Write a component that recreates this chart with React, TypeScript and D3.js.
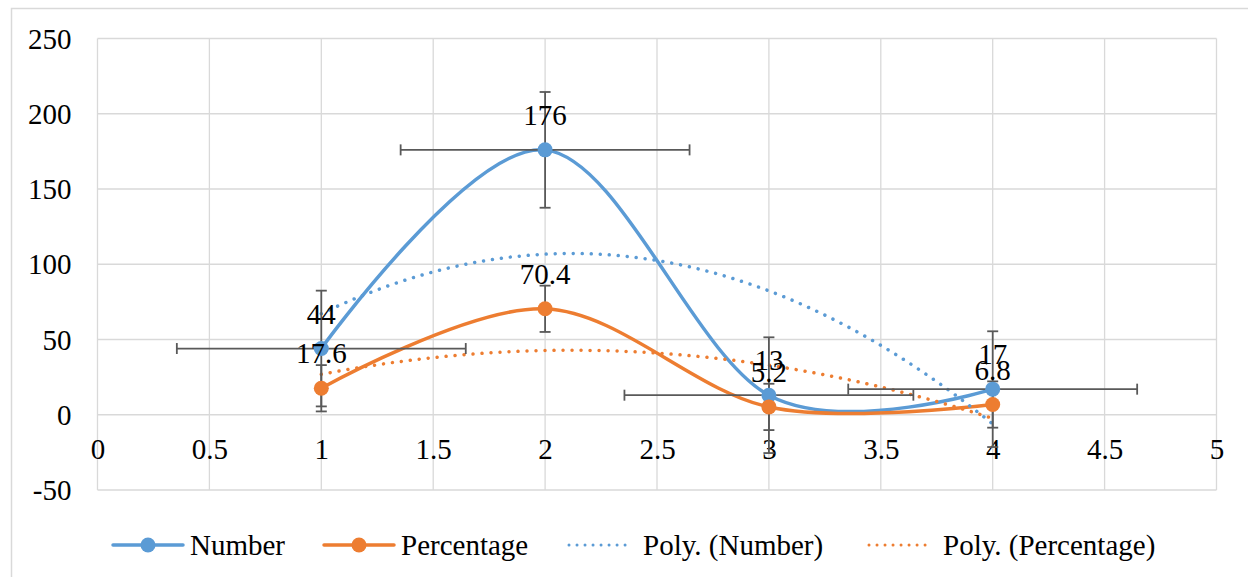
import React, { useEffect, useRef } from "react";
import * as d3 from "d3";

// chart data
const xValues = [1, 2, 3, 4];
const numberValues = [44, 176, 13, 17];
const percentageValues = [17.6, 70.4, 5.2, 6.8];
const xTickValues = [0, 0.5, 1, 1.5, 2, 2.5, 3, 3.5, 4, 4.5, 5];
const yTickValues = [-50, 0, 50, 100, 150, 200, 250];
const legendLabels = ["Number", "Percentage", "Poly. (Number)", "Poly. (Percentage)"];

const BLUE = "#5B9BD5";
const ORANGE = "#ED7D31";
const GRID = "#D9D9D9";
const ERR = "#595959";
const FONT = "Liberation Serif";

// least squares polynomial (order 2), like Excel's trendline
function polyFit(xs: number[], ys: number[]) {
  const s = (f: (x: number, y: number) => number) => d3.sum(xs, (x, i) => f(x, ys[i]));
  const A = [
    [xs.length, s(x => x), s(x => x * x)],
    [s(x => x), s(x => x * x), s(x => x ** 3)],
    [s(x => x * x), s(x => x ** 3), s(x => x ** 4)],
  ];
  const b = [s((x, y) => y), s((x, y) => x * y), s((x, y) => x * x * y)];
  // gaussian elimination
  const n = 3;
  const M = A.map((r, i) => [...r, b[i]]);
  for (let i = 0; i < n; i++) {
    for (let k = i + 1; k < n; k++) {
      const f = M[k][i] / M[i][i];
      for (let j = i; j <= n; j++) M[k][j] -= f * M[i][j];
    }
  }
  const c = [0, 0, 0];
  for (let i = n - 1; i >= 0; i--) {
    let v = M[i][n];
    for (let j = i + 1; j < n; j++) v -= M[i][j] * c[j];
    c[i] = v / M[i][i];
  }
  return (x: number) => c[0] + c[1] * x + c[2] * x * x;
}

// standard error, as in Excel's error bars
const stdErr = (vals: number[]) => (d3.deviation(vals) as number) / Math.sqrt(vals.length);

const App = () => {
  const ref = useRef<SVGSVGElement>(null);

  useEffect(() => {
    const width = 1248;
    const height = 577;
    const margin = { top: 38.5, right: 31.5, bottom: 87, left: 97.5 };
    const innerW = width - margin.left - margin.right;
    const innerH = height - margin.top - margin.bottom;

    const svg = d3.select(ref.current).attr("width", width).attr("height", height);
    svg.selectAll("*").remove();

    svg.append("rect").attr("width", width).attr("height", height).attr("fill", "#fff");
    svg.append("rect")
      .attr("x", 11.5).attr("y", 8.5).attr("width", 1260).attr("height", 620)
      .attr("fill", "none").attr("stroke", GRID).attr("stroke-width", 1.5);

    const g = svg.append("g").attr("transform", `translate(${margin.left},${margin.top})`);

    const x = d3.scaleLinear().domain([0, 5]).range([0, innerW]);
    const y = d3.scaleLinear().domain([-50, 250]).range([innerH, 0]);

    // gridlines
    g.selectAll(".vgrid").data(xTickValues).join("line").attr("class", "vgrid")
      .attr("x1", d => x(d)).attr("x2", d => x(d))
      .attr("y1", 0).attr("y2", innerH)
      .attr("stroke", GRID).attr("stroke-width", 1.3);
    g.selectAll(".hgrid").data(yTickValues).join("line").attr("class", "hgrid")
      .attr("x1", 0).attr("x2", innerW)
      .attr("y1", d => y(d)).attr("y2", d => y(d))
      .attr("stroke", GRID).attr("stroke-width", 1.3);

    // axes labels only
    const yAxis = d3.axisLeft(y).tickValues(yTickValues).tickSize(0).tickPadding(26)
      .tickFormat(d => String(d));
    g.append("g").call(yAxis)
      .call(a => a.select(".domain").remove())
      .attr("font-family", FONT).attr("font-size", 29)
      .selectAll("text").attr("fill", "#000").attr("dy", "0.33em");

    const xAxis = d3.axisBottom(x).tickValues(xTickValues).tickSize(0).tickPadding(24)
      .tickFormat(d => String(d));
    g.append("g").attr("transform", `translate(0,${y(0)})`).call(xAxis)
      .call(a => a.select(".domain").remove())
      .attr("font-family", FONT).attr("font-size", 29)
      .selectAll("text").attr("fill", "#000");

    const series = [
      { name: "Number", values: numberValues, color: BLUE, xErr: true },
      { name: "Percentage", values: percentageValues, color: ORANGE, xErr: false },
    ];

    const smooth = d3.line<number>()
      .x((d, i) => x(xValues[i]))
      .y(d => y(d))
      .curve(d3.curveCardinal.tension(0));

    // smoothed series lines
    series.forEach(s => {
      g.append("path").datum(s.values)
        .attr("d", smooth)
        .attr("fill", "none").attr("stroke", s.color).attr("stroke-width", 3.5)
        .attr("stroke-linecap", "round");
    });

    // polynomial trendlines
    const xMin = d3.min(xValues) as number;
    const xMax = d3.max(xValues) as number;
    const samples = d3.range(0, 101).map(i => xMin + (xMax - xMin) * i / 100);
    series.forEach(s => {
      const f = polyFit(xValues, s.values);
      g.append("path").datum(samples)
        .attr("d", d3.line<number>().x(d => x(d)).y(d => y(f(d))))
        .attr("fill", "none").attr("stroke", s.color).attr("stroke-width", 3.5)
        .attr("stroke-linecap", "round").attr("stroke-dasharray", "0.01 9");
    });

    // error bars
    const cap = 5.5;
    const xe = stdErr(xValues);
    series.forEach(s => {
      const ye = stdErr(s.values);
      const eb = g.append("g").attr("stroke", ERR).attr("stroke-width", 1.8);
      s.values.forEach((v, i) => {
        const cx = x(xValues[i]);
        eb.append("line").attr("x1", cx).attr("x2", cx).attr("y1", y(v - ye)).attr("y2", y(v + ye));
        [v - ye, v + ye].forEach(e => {
          eb.append("line").attr("x1", cx - cap).attr("x2", cx + cap).attr("y1", y(e)).attr("y2", y(e));
        });
        if (s.xErr) {
          const cy = y(v);
          eb.append("line").attr("x1", x(xValues[i] - xe)).attr("x2", x(xValues[i] + xe)).attr("y1", cy).attr("y2", cy);
          [xValues[i] - xe, xValues[i] + xe].forEach(e => {
            eb.append("line").attr("x1", x(e)).attr("x2", x(e)).attr("y1", cy - cap).attr("y2", cy + cap);
          });
        }
      });
    });

    // markers
    series.forEach(s => {
      g.selectAll(null).data(s.values).join("circle")
        .attr("cx", (d, i) => x(xValues[i])).attr("cy", d => y(d))
        .attr("r", 7.5).attr("fill", s.color);
    });

    // data labels (Excel places them above each point, overlaps included)
    series.forEach(s => {
      g.selectAll(null).data(s.values).join("text")
        .attr("x", (d, i) => x(xValues[i])).attr("y", d => y(d) - 25)
        .attr("text-anchor", "middle")
        .attr("font-family", FONT).attr("font-size", 29).attr("fill", "#000")
        .text(d => String(d));
    });

    // legend
    const legendX = [113, 324, 566, 866];
    const legendY = 545;
    const lg = svg.append("g");
    legendLabels.forEach((label, i) => {
      const color = i % 2 === 0 ? BLUE : ORANGE;
      const dotted = i >= 2;
      const lx = legendX[i];
      lg.append("line")
        .attr("x1", dotted ? lx + 3 : lx).attr("x2", dotted ? lx + 67 : lx + 70)
        .attr("y1", legendY).attr("y2", legendY)
        .attr("stroke", color).attr("stroke-width", dotted ? 3 : 3.5)
        .attr("stroke-linecap", "round")
        .attr("stroke-dasharray", dotted ? "0.01 8" : null);
      if (!dotted) {
        lg.append("circle").attr("cx", lx + 35).attr("cy", legendY).attr("r", 7.5).attr("fill", color);
      }
      lg.append("text")
        .attr("x", lx + 77).attr("y", legendY).attr("dy", "0.33em")
        .attr("font-family", FONT).attr("font-size", 29).attr("fill", "#000")
        .text(label);
    });
  }, []);

  return (
    <svg ref={ref} style={{ position: "absolute", left: 0, top: 0, display: "block" }}></svg>
  );
};

export default App;
